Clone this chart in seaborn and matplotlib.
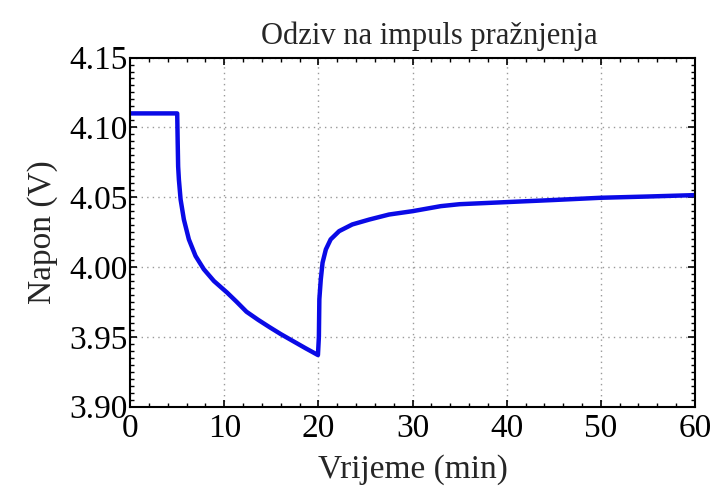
import numpy as np
import pandas as pd
import matplotlib
matplotlib.use("Agg")
import matplotlib.pyplot as plt
from matplotlib.ticker import MultipleLocator
import seaborn as sns

# vrijeme (min) i napon (V) očitani sa slike
vrijeme = [0, 5, 5.05, 5.1, 5.18, 5.36, 5.71, 6.24, 6.95, 7.83, 8.9, 10.3, 11.3, 12.36,
           13.6, 14.8, 16.0, 17.3, 18.6, 19.95,
           20.05, 20.1, 20.25, 20.44, 20.79, 21.3, 22.2, 23.6, 25.4, 27.5, 30,
           33, 35, 40, 45, 50, 55, 60]
napon = [4.11, 4.11, 4.09, 4.072, 4.0626, 4.0484, 4.034, 4.0198, 4.0079, 3.9984, 3.990,
         3.9817, 3.9752, 3.968, 3.9622, 3.957, 3.952, 3.947, 3.942, 3.937,
         3.95, 3.977, 3.991, 4.0031, 4.0126, 4.0198, 4.0257, 4.0305, 4.034, 4.0376,
         4.040, 4.0436, 4.045, 4.0465, 4.048, 4.0496, 4.0505, 4.0515]

df = pd.DataFrame({"Vrijeme": vrijeme, "Napon": napon})

sns.set_style("ticks")
plt.rcParams['font.family'] = ['Liberation Serif', 'DejaVu Serif']

fig = plt.figure(figsize=(7.15, 4.96), dpi=100)
ax = fig.add_axes([0.182, 0.180, 0.790, 0.704])

sns.lineplot(data=df, x="Vrijeme", y="Napon", sort=False, estimator=None,
             color="#0a0ae6", linewidth=3.2, ax=ax)

ax.set_xlim(0, 60)
ax.set_ylim(3.90, 4.15)
ax.xaxis.set_major_locator(MultipleLocator(10))
ax.xaxis.set_minor_locator(MultipleLocator(2))
ax.yaxis.set_major_locator(MultipleLocator(0.05))
ax.yaxis.set_minor_locator(MultipleLocator(0.005))
ax.set_yticklabels([f"{v:.2f}" for v in ax.get_yticks()])

ax.grid(True, which="major", linestyle=(0, (1, 3)), color="#999999", linewidth=1)
ax.tick_params(which="both", direction="in", top=True, right=True, colors="black")
ax.tick_params(which="major", length=5, width=1.2, labelsize=24)
ax.tick_params(axis="x", which="major", pad=5)
ax.tick_params(axis="y", which="major", pad=2)
ax.tick_params(which="minor", length=3, width=1)
for s in ax.spines.values():
    s.set_linewidth(1.5)
    s.set_color("black")

ax.set_xlabel("Vrijeme (min)", fontsize=24, labelpad=7)
ax.set_ylabel("Napon (V)", fontsize=24, labelpad=8)
ax.set_title("Odziv na impuls pražnjenja", fontsize=22, pad=10, x=0.529)

fig.savefig("out.png", dpi=100)
